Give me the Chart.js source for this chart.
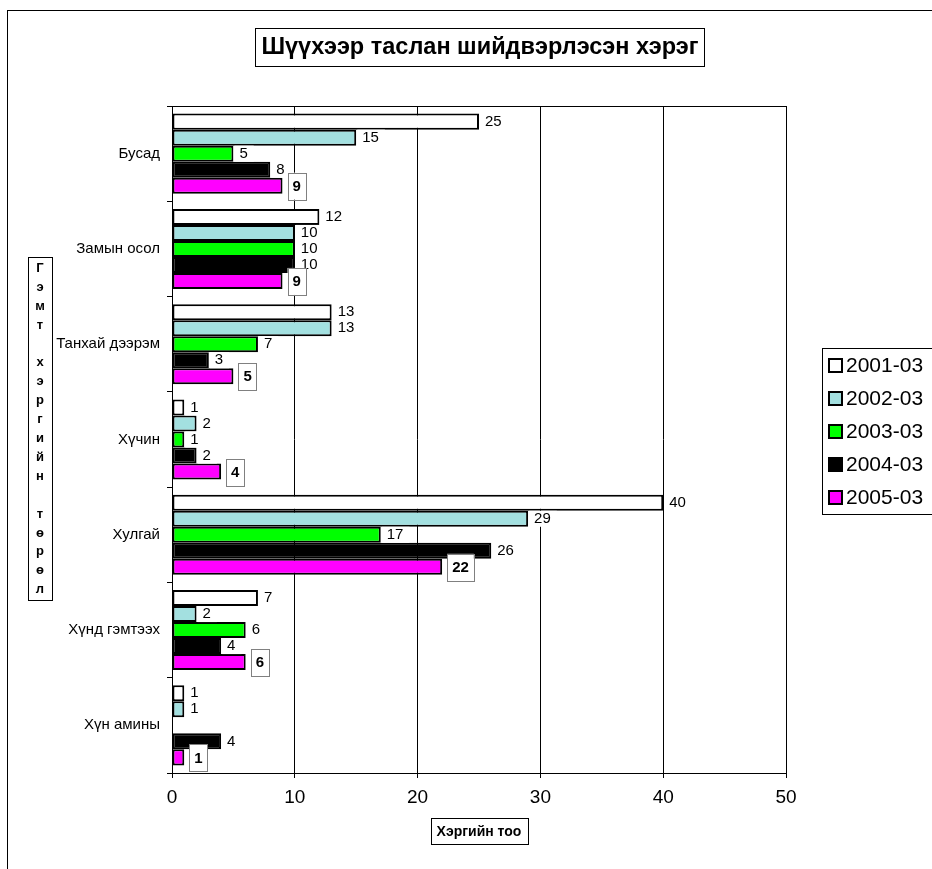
<!DOCTYPE html>
<html>
<head>
<meta charset="utf-8">
<script src="https://cdn.jsdelivr.net/npm/chart.js@4.4.0/dist/chart.umd.min.js"></script>
<style>
  body { margin: 0; background: #fff; }
  #wrap { width: 932px; height: 869px; }
</style>
</head>
<body>
<div id="wrap"><canvas id="chart" width="932" height="869"></canvas></div>
<script>
// categories, top to bottom
var categories = ["Бусад", "Замын осол", "Танхай дээрэм", "Хүчин", "Хулгай", "Хүнд гэмтээх", "Хүн амины"];
var seriesNames = ["2001-03", "2002-03", "2003-03", "2004-03", "2005-03"];
var seriesColors = ["#ffffff", "#a3e0e0", "#00ff00", "#000000", "#ff00ff"];

var v2001 = [25, 12, 13, 1, 40, 7, 1];
var v2002 = [15, 10, 13, 2, 29, 2, 1];
var v2003 = [5, 10, 7, 1, 17, 6, null];
var v2004 = [8, 10, 3, 2, 26, 4, 4];
var v2005 = [9, 9, 5, 4, 22, 6, 1];

var xTicks = [0, 10, 20, 30, 40, 50];

var chartTitle = "Шүүхээр таслан шийдвэрлэсэн хэрэг";
var yTitle = "Гэмт хэргийн төрөл";
var xTitle = "Хэргийн тоо";

var allValues = [v2001, v2002, v2003, v2004, v2005];
var datasets = [];
for (var i = 0; i < seriesNames.length; i++) {
    datasets.push({
        label: seriesNames[i],
        data: allValues[i],
        backgroundColor: seriesColors[i],
        borderColor: "#000",
        borderWidth: 2,
        borderSkipped: false,
        categoryPercentage: 0.84,
        barPercentage: 1.0
    });
}

// labels, boxes, legend and frame drawn straight on the canvas
var decor = {
    id: "decor",
    beforeDraw: function (chart) {
        var ctx = chart.ctx;
        ctx.save();
        ctx.fillStyle = "#fff";
        ctx.fillRect(0, 0, chart.width, chart.height);
        ctx.restore();
    },
    afterDatasetsDraw: function (chart) {
        var ctx = chart.ctx;
        ctx.save();
        ctx.textBaseline = "middle";
        for (var d = 0; d < chart.data.datasets.length; d++) {
            var meta = chart.getDatasetMeta(d);
            var vals = chart.data.datasets[d].data;
            for (var k = 0; k < meta.data.length; k++) {
                if (vals[k] == null) continue;
                var el = meta.data[k];
                var txt = String(vals[k]);
                if (d < 4) {
                    ctx.font = "15px Arial";
                    var w = ctx.measureText(txt).width;
                    ctx.fillStyle = "#fff";
                    ctx.fillRect(el.x + 1, el.y - 8, w + 11, 16);
                    ctx.fillStyle = "#000";
                    ctx.fillText(txt, el.x + 6, el.y);
                } else {
                    ctx.font = "bold 15px Arial";
                    var wb = ctx.measureText(txt).width;
                    ctx.fillStyle = "#fff";
                    ctx.fillRect(el.x + 5, el.y - 13, wb + 10, 27);
                    ctx.strokeStyle = "#808080";
                    ctx.lineWidth = 1;
                    ctx.strokeRect(Math.round(el.x + 5) + 0.5, Math.round(el.y - 13) + 0.5, Math.round(wb + 10), 27);
                    ctx.fillStyle = "#000";
                    ctx.fillText(txt, el.x + 10, el.y + 1);
                }
            }
        }
        ctx.restore();
    },
    afterDraw: function (chart) {
        var ctx = chart.ctx;
        var a = chart.chartArea;
        ctx.save();
        ctx.strokeStyle = "#000";
        ctx.lineWidth = 1;

        // outer frame
        ctx.strokeRect(7.5, 10.5, 1000, 1000);

        // plot frame
        ctx.strokeRect(Math.round(a.left) + 0.5, Math.round(a.top) + 0.5, Math.round(a.right - a.left), Math.round(a.bottom - a.top));

        // title
        ctx.font = "bold 23.5px Arial";
        ctx.textAlign = "center";
        ctx.textBaseline = "middle";
        var tw = ctx.measureText(chartTitle).width;
        ctx.fillStyle = "#fff";
        ctx.fillRect(480 - tw / 2 - 6, 28, tw + 12, 38);
        ctx.strokeRect(Math.round(480 - tw / 2 - 6) + 0.5, 28.5, Math.round(tw + 12), 38);
        ctx.fillStyle = "#000";
        ctx.fillText(chartTitle, 480, 48);

        // y title, one letter per line
        var letters = yTitle.split("");
        var step = 18.9;
        var midY = 429;
        var y0 = midY - (letters.length - 1) * step / 2;
        ctx.strokeRect(28.5, Math.round(y0 - 11) + 0.5, 24, Math.round((letters.length - 1) * step + 22));
        ctx.font = "bold 13px Arial";
        for (var i = 0; i < letters.length; i++) {
            ctx.fillText(letters[i], 40, y0 + i * step);
        }

        // x title
        ctx.font = "bold 14px Arial";
        var xw = ctx.measureText(xTitle).width;
        var cx = (a.left + a.right) / 2;
        ctx.strokeRect(Math.round(cx - xw / 2 - 6) + 0.5, 818.5, Math.round(xw + 12), 26);
        ctx.fillText(xTitle, cx, 832);

        // legend
        ctx.strokeRect(822.5, 348.5, 140, 166);
        ctx.textAlign = "left";
        ctx.font = "21px Arial";
        for (var j = 0; j < chart.data.datasets.length; j++) {
            var ds = chart.data.datasets[j];
            var ly = 365 + j * 33;
            ctx.fillStyle = ds.backgroundColor;
            ctx.fillRect(829, ly - 6, 13, 13);
            ctx.lineWidth = 2;
            ctx.strokeRect(829, ly - 6, 13, 13);
            ctx.lineWidth = 1;
            ctx.fillStyle = "#000";
            ctx.fillText(ds.label, 846, ly + 1);
        }
        ctx.restore();
    }
};

new Chart(document.getElementById("chart"), {
    type: "bar",
    data: { labels: categories, datasets: datasets },
    options: {
        indexAxis: "y",
        responsive: false,
        animation: false,
        layout: { padding: { left: 0, top: 106, right: 146, bottom: 60 } },
        plugins: {
            legend: { display: false },
            title: { display: false },
            tooltip: { enabled: false }
        },
        scales: {
            x: {
                min: 0,
                max: 50,
                afterBuildTicks: function (scale) {
                    scale.ticks = xTicks.map(function (v) { return { value: v }; });
                },
                afterFit: function (scale) { scale.height = 36; },
                grid: { color: "#000", lineWidth: 1, drawTicks: true, tickLength: 5, tickColor: "#000" },
                border: { display: true, color: "#000", width: 1 },
                ticks: { color: "#000", font: { family: "Arial", size: 19 }, padding: 8, maxRotation: 0 }
            },
            y: {
                afterFit: function (scale) { scale.width = 172; },
                grid: { drawOnChartArea: false, drawTicks: true, tickLength: 5, color: "#000", offset: true },
                border: { display: true, color: "#000", width: 1 },
                ticks: { color: "#000", font: { family: "Arial", size: 15 }, padding: 7 }
            }
        }
    },
    plugins: [decor]
});
</script>
</body>
</html>
